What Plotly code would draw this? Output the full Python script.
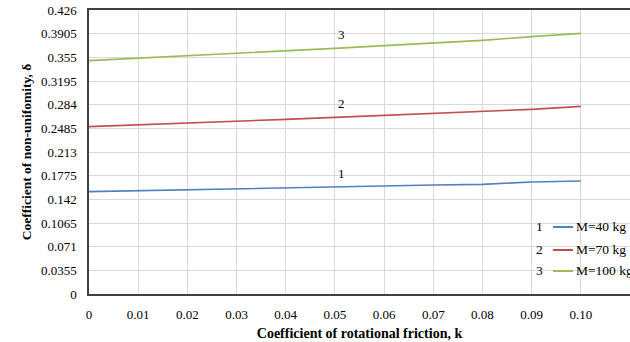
import plotly.graph_objects as go

k = [0, 0.01, 0.02, 0.03, 0.04, 0.05, 0.06, 0.07, 0.08, 0.09, 0.10]
x_ticklabels = ["0", "0.01", "0.02", "0.03", "0.04", "0.05", "0.06", "0.07", "0.08", "0.09", "0.10"]
y_tickvals = [0, 0.0355, 0.071, 0.1065, 0.142, 0.1775, 0.213, 0.2485, 0.284, 0.3195, 0.355, 0.3905, 0.426]
y_ticklabels = ["0", "0.0355", "0.071", "0.1065", "0.142", "0.1775", "0.213", "0.2485", "0.284", "0.3195", "0.355", "0.3905", "0.426"]

m40 = [0.1535, 0.155, 0.157, 0.1585, 0.1595, 0.1605, 0.162, 0.1635, 0.1645, 0.168, 0.1695]
m70 = [0.251, 0.2535, 0.2565, 0.259, 0.262, 0.265, 0.268, 0.2705, 0.2735, 0.277, 0.2815]
m100 = [0.350, 0.3535, 0.3575, 0.3605, 0.364, 0.3685, 0.3725, 0.3765, 0.3805, 0.386, 0.391]

names = ["M=40 kg", "M=70 kg", "M=100 kg"]
numbers = ["1", "2", "3"]
colors = ["#4f81bd", "#c0504d", "#9bbb59"]
series = [m40, m70, m100]
label_x = 0.05

FONT = "Liberation Serif, Times New Roman, serif"

fig = go.Figure()
for name, ys, c in zip(names, series, colors):
    fig.add_trace(go.Scatter(x=k, y=ys, mode="lines", name=name,
                             line=dict(color=c, width=1.6), showlegend=False))

# curve number labels
for num, ys in zip(numbers, series):
    yv = ys[k.index(label_x)]
    fig.add_annotation(x=label_x, y=yv, text=num, showarrow=False,
                       xshift=7, yshift=14, font=dict(family=FONT, size=13, color="#000"))

# custom legend (numbers, line samples, names)
leg_y = [0.236, 0.155, 0.081]
for num, name, c, ly in zip(numbers, names, colors, leg_y):
    fig.add_annotation(xref="paper", yref="paper", x=0.842, y=ly,
                       text=num, showarrow=False, xanchor="right", yanchor="middle",
                       font=dict(family=FONT, size=13.5, color="#000"))
    fig.add_shape(type="line", xref="paper", yref="paper",
                  x0=0.8577, x1=0.8946, y0=ly, y1=ly,
                  line=dict(color=c, width=2))
    fig.add_annotation(xref="paper", yref="paper", x=0.8965, y=ly,
                       text=name, showarrow=False, xanchor="left", yanchor="middle",
                       font=dict(family=FONT, size=13.5, color="#000"))

fig.update_layout(
    width=630, height=342,
    margin=dict(l=89, r=0, t=10, b=48, autoexpand=False),
    paper_bgcolor="white", plot_bgcolor="white",
    font=dict(family=FONT, size=13, color="#000"),
    showlegend=False,
    xaxis=dict(range=[0, 0.11], tickvals=k, ticktext=x_ticklabels,
               showgrid=True, gridcolor="#d9d9d9", gridwidth=1,
               showline=True, linecolor="#404040", linewidth=1.5, mirror=True,
               zeroline=False, ticks="", ticklabelstandoff=8,
               title=dict(text="<b>Coefficient of rotational friction, k</b>",
                          font=dict(family=FONT, size=14), standoff=7)),
    yaxis=dict(range=[0, 0.426], tickvals=y_tickvals, ticktext=y_ticklabels,
               showgrid=True, gridcolor="#d9d9d9", gridwidth=1,
               showline=True, linecolor="#404040", linewidth=1.5, mirror=False,
               zeroline=False, ticks="", ticklabelstandoff=8,
               title=dict(text="<b>Coefficient of non-unifomity, δ</b>",
                          font=dict(family=FONT, size=13.5), standoff=6)),
)

fig.write_html("out.html")
